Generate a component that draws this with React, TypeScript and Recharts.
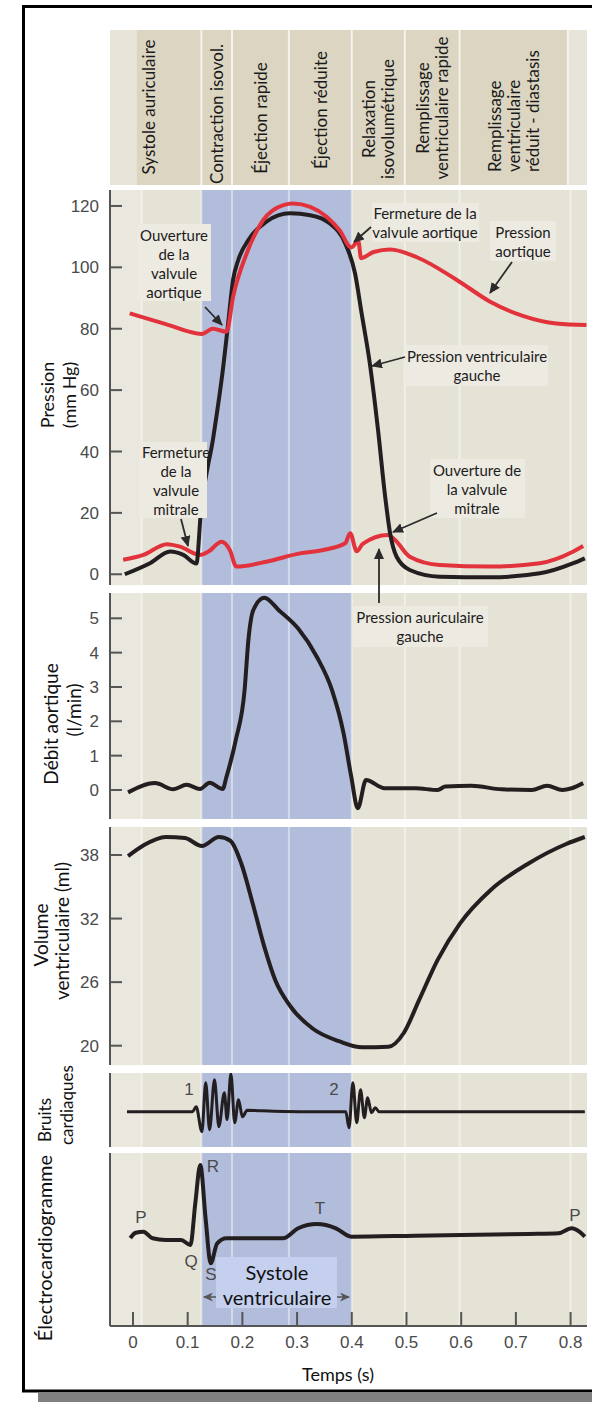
import React from "react"
import { LineChart, Line, XAxis, YAxis, ReferenceArea, ReferenceLine } from "recharts"

// time axis (s)
const tMin = -0.042
const tMax = 0.83
const timeTicks = [0, 0.1, 0.2, 0.3, 0.4, 0.5, 0.6, 0.7, 0.8]
const systoleFrom = 0.125
const systoleTo = 0.4
const separators = [0.016, 0.125, 0.181, 0.285, 0.4, 0.497, 0.597, 0.8]

// cardiac phases (header)
const phaseLabels = [
  ["Systole auriculaire"],
  ["Contraction isovol."],
  ["Éjection rapide"],
  ["Éjection réduite"],
  ["Relaxation", "isovolumétrique"],
  ["Remplissage", "ventriculaire rapide"],
  ["Remplissage", "ventriculaire", "réduit - diastasis"],
]
const phaseStart = [0.007, 0.125, 0.181, 0.285, 0.4, 0.497, 0.597]
const phaseEnd = [0.125, 0.181, 0.285, 0.4, 0.497, 0.597, 0.795]

// pressure (mm Hg)
const pressureTicks = [0, 20, 40, 60, 80, 100, 120]
const aorticT = [-0.006, 0.06, 0.1255, 0.146, 0.171, 0.183, 0.208, 0.238, 0.275, 0.293, 0.324, 0.354, 0.378, 0.399, 0.412, 0.417, 0.44, 0.47, 0.52, 0.592, 0.653, 0.714, 0.774, 0.829]
const aorticP = [85, 81.5, 78.3, 80, 79, 90.4, 104.6, 115.4, 120.3, 120.8, 119.7, 116.5, 112, 106.5, 108.5, 103, 105, 105.8, 103.2, 95.9, 88.8, 84.1, 81.7, 81.2]
const ventricleT = [-0.015, 0.031, 0.068, 0.092, 0.116, 0.124, 0.147, 0.165, 0.174, 0.183, 0.1925, 0.211, 0.244, 0.287, 0.324, 0.36, 0.388, 0.406, 0.418, 0.433, 0.448, 0.461, 0.47, 0.482, 0.506, 0.561, 0.653, 0.744, 0.805, 0.826]
const ventricleP = [0, 3.6, 7.4, 6.3, 3.5, 20, 44.8, 67.6, 81.8, 95.9, 102.4, 108.9, 114.9, 117.6, 117, 114.3, 107.8, 98, 85, 68.7, 47, 25.3, 13.4, 5.7, 1.4, -0.8, -1, 0.3, 3.6, 5.2]
const atriumT = [-0.018, 0.019, 0.062, 0.086, 0.122, 0.138, 0.162, 0.177, 0.189, 0.244, 0.305, 0.348, 0.388, 0.397, 0.409, 0.42, 0.466, 0.48, 0.506, 0.561, 0.653, 0.744, 0.805, 0.823]
const atriumP = [4.7, 6.3, 9.8, 9, 6.3, 7.4, 10.6, 7.9, 2.5, 4.1, 6.8, 7.9, 10.1, 13.4, 7.5, 9.9, 12.8, 11, 5.7, 3, 2.5, 3.6, 7.4, 9.2]

// aortic flow (l/min)
const flowTicks = [0, 1, 2, 3, 4, 5]
const flowT = [-0.009, 0.04, 0.074, 0.098, 0.1225, 0.14, 0.164, 0.171, 0.188, 0.204, 0.211, 0.22, 0.24, 0.267, 0.302, 0.336, 0.364, 0.385, 0.399, 0.411, 0.426, 0.46, 0.516, 0.557, 0.571, 0.619, 0.674, 0.729, 0.757, 0.785, 0.802, 0.823]
const flowV = [-0.07, 0.2, 0.02, 0.15, 0.03, 0.21, 0.03, 0.39, 1.46, 2.9, 4.37, 5.24, 5.6, 5.23, 4.7, 3.88, 2.9, 1.65, 0.39, -0.53, 0.29, 0.05, 0.05, 0, 0.1, 0.12, 0.02, 0, 0.12, 0, 0.05, 0.2]

// ventricular volume (ml)
const volumeTicks = [20, 26, 32, 38]
const volumeT = [-0.009, 0.019, 0.06, 0.095, 0.126, 0.157, 0.178, 0.198, 0.219, 0.24, 0.26, 0.288, 0.329, 0.378, 0.419, 0.467, 0.495, 0.523, 0.557, 0.598, 0.654, 0.723, 0.792, 0.826]
const volumeV = [37.9, 38.9, 39.7, 39.6, 38.85, 39.7, 39.35, 37.2, 33.4, 29.35, 26.2, 23.7, 21.6, 20.4, 19.85, 19.9, 21.2, 24.3, 28.1, 31.55, 34.7, 37.2, 39.04, 39.7]

// heart sounds (arbitrary units)
const soundT = [-0.011, 0.109, 0.1155, 0.126, 0.133, 0.14, 0.149, 0.157, 0.167, 0.172, 0.179, 0.186, 0.193, 0.2, 0.209, 0.232, 0.305, 0.389, 0.395, 0.402, 0.409, 0.416, 0.423, 0.429, 0.436, 0.443, 0.45, 0.826]
const soundV = [0, 0, 0.5, -2, 2.9, -1.8, 3.2, -1.5, 1.9, -0.8, 3.8, -1.1, 1.2, -0.5, 0.15, 0.1, 0, 0, -1.6, 2.9, -1.1, 2.2, -0.6, 1.4, -0.1, 0.4, 0, 0]

// ECG (arbitrary units)
const ecgT = [-0.005, 0.005, 0.019, 0.036, 0.06, 0.088, 0.105, 0.114, 0.123, 0.133, 0.142, 0.154, 0.171, 0.274, 0.302, 0.336, 0.371, 0.399, 0.516, 0.723, 0.778, 0.802, 0.816, 0.826]
const ecgV = [-0.13, 0.4, 0.5, -0.16, -0.33, -0.33, -0.83, 3.37, 7.17, 1.67, -2.66, -0.66, -0.16, -0.16, 0.84, 1.27, 0.84, 0, 0.1, 0.27, 0.34, 0.84, 0.5, 0]

const pts = (t: number[], v: number[]) => t.map((x, i) => ({ t: x, v: v[i] }))

const BG = "#e5e3d6"
const BG_LIGHT = "#eae8de"
const BLUE = "#b2bcdb"
const INK = "#231f20"
const RED = "#e2323b"
const AXIS = "#555"
const SANS = "Lato, 'Open Sans', sans-serif"
const ARIAL = "'Liberation Sans', Arial, sans-serif"

// header label placement (px inside the header band)
const phaseDx = [-21, 0, 0, 0, 0, 0, 0]
const phaseY = [77, 84, 88, 80, 89, 78, 142]
const phaseAnchor = ["middle", "middle", "middle", "middle", "middle", "middle", "start"]

const YTick = (props: any) => {
  const { x, y, payload } = props
  return (
    <g>
      <line x1={x + 11} x2={x + 23} y1={y} y2={y} stroke={AXIS} strokeWidth={2} />
      <text x={x} y={y} dy="0.36em" textAnchor="end" fontFamily={ARIAL} fontSize={17} fill="#4a4a4a">
        {payload.value}
      </text>
    </g>
  )
}

const XTick = (props: any) => {
  const { x, y, payload } = props
  return (
    <g>
      <line x1={x} x2={x} y1={y - 10} y2={y - 24} stroke={AXIS} strokeWidth={2} />
      <text x={x} y={y} dy="0.71em" textAnchor="middle" fontFamily={ARIAL} fontSize={17} fill="#4a4a4a">
        {payload.value}
      </text>
    </g>
  )
}

function backdrop() {
  return [
    <ReferenceArea key="bg" x1={tMin} x2={tMax} fill={BG} fillOpacity={1} stroke="none" />,
    <ReferenceArea key="lead" x1={tMin} x2={separators[0]} fill={BG_LIGHT} fillOpacity={1} stroke="none" />,
    <ReferenceArea key="sys" x1={systoleFrom} x2={systoleTo} fill={BLUE} fillOpacity={1} stroke="none" />,
    ...separators.map((t) => (
      <ReferenceLine key={"sep" + t} x={t} stroke="#ffffff" strokeOpacity={0.45} strokeWidth={2} />
    )),
  ]
}

function Panel({ top, plotHeight, domain, ticks, showTime, children }: any) {
  const axisH = showTime ? 40 : 0
  return (
    <div style={{ position: "absolute", left: 0, top }}>
      <LineChart width={592} height={plotHeight + axisH} margin={{ top: 0, right: 5, bottom: 0, left: 0 }}>
        <XAxis
          type="number"
          dataKey="t"
          domain={[tMin, tMax]}
          allowDataOverflow
          ticks={timeTicks}
          interval={0}
          hide={!showTime}
          height={axisH}
          tickSize={0}
          tickMargin={10}
          tickLine={false}
          axisLine={{ stroke: AXIS, strokeWidth: 2 }}
          tick={<XTick />}
        />
        <YAxis
          type="number"
          domain={domain}
          allowDataOverflow
          width={110}
          ticks={ticks || []}
          interval={0}
          tickSize={0}
          tickMargin={11}
          tickLine={false}
          axisLine={{ stroke: AXIS, strokeWidth: 2 }}
          tick={ticks ? <YTick /> : false}
        />
        {backdrop()}
        {children}
      </LineChart>
    </div>
  )
}

function PhaseLabel({ viewBox, lines, i }: any) {
  if (!viewBox) return null
  const cx = viewBox.x + viewBox.width / 2 + phaseDx[i]
  const n = lines.length
  return (
    <g>
      {lines.map((s: string, k: number) => {
        const x = cx + (k - (n - 1) / 2) * 19
        const y = viewBox.y + phaseY[i]
        return (
          <text
            key={k}
            transform={`translate(${x},${y}) rotate(-90)`}
            textAnchor={phaseAnchor[i]}
            dominantBaseline="central"
            fontFamily={SANS}
            fontSize={17}
            fill="#1a1a1a"
          >
            {s}
          </text>
        )
      })}
    </g>
  )
}

function Header() {
  return (
    <div style={{ position: "absolute", left: 0, top: 30 }}>
      <LineChart width={592} height={155} margin={{ top: 0, right: 5, bottom: 0, left: 110 }} data={pts(phaseStart, phaseStart)}>
        <XAxis type="number" dataKey="t" domain={[tMin, tMax]} allowDataOverflow hide />
        <YAxis type="number" domain={[0, 1]} allowDataOverflow hide />
        <ReferenceArea x1={tMin} x2={tMax} fill="#e7e5da" fillOpacity={1} stroke="none" />
        {phaseLabels.map((lines, i) => (
          <ReferenceArea
            key={i}
            x1={phaseStart[i]}
            x2={phaseEnd[i]}
            fill="#dbd5c2"
            fillOpacity={1}
            stroke="none"
            label={(p: any) => <PhaseLabel viewBox={p.viewBox} lines={lines} i={i} />}
          />
        ))}
        {separators.slice(1).map((t) => (
          <ReferenceLine key={t} x={t === 0.8 ? 0.795 : t} stroke="#f4f3ed" strokeWidth={2} />
        ))}
      </LineChart>
    </div>
  )
}

function VText({ x, y, text, size, anchor = "middle" }: any) {
  return (
    <text
      transform={`translate(${x},${y}) rotate(-90)`}
      textAnchor={anchor}
      dominantBaseline="central"
      fontFamily={SANS}
      fontSize={size}
      fill="#111"
    >
      {text}
    </text>
  )
}

function Note({ x, y, lines, box }: any) {
  return (
    <g>
      {box && <rect x={box[0]} y={box[1]} width={box[2]} height={box[3]} fill="#eceae1" />}
      {lines.map((s: string, i: number) => (
        <text key={i} x={x} y={y + i * 19} textAnchor="middle" dominantBaseline="central" fontFamily={SANS} fontSize={15} fill="#1c1c1c">
          {s}
        </text>
      ))}
    </g>
  )
}

function Arrow({ x1, y1, x2, y2 }: any) {
  return <line x1={x1} y1={y1} x2={x2} y2={y2} stroke="#2b2b2b" strokeWidth={1.8} markerEnd="url(#tip)" />
}

function Letter({ x, y, c }: any) {
  return (
    <text x={x} y={y} textAnchor="middle" dominantBaseline="central" fontFamily={ARIAL} fontSize={17} fill="#4a4a4a">
      {c}
    </text>
  )
}

function Overlay() {
  return (
    <svg width={592} height={1402} style={{ position: "absolute", left: 0, top: 0, pointerEvents: "none" }}>
      <defs>
        <marker id="tip" markerUnits="userSpaceOnUse" markerWidth="11" markerHeight="10" viewBox="0 0 11 10" refX="10" refY="5" orient="auto">
          <path d="M0,0 L11,5 L0,10 z" fill="#2b2b2b" />
        </marker>
        <marker id="tip2" markerUnits="userSpaceOnUse" markerWidth="10" markerHeight="9" viewBox="0 0 10 9" refX="9" refY="4.5" orient="auto">
          <path d="M0,0 L10,4.5 L0,9 L3,4.5 z" fill="#555" />
        </marker>
      </defs>

      {/* axis titles */}
      <rect x={33} y={347} width={47} height={98} fill="#fff" />
      <VText x={47} y={395} text="Pression" size={18} />
      <VText x={69} y={395} text="(mm Hg)" size={18} />

      <rect x={36} y={640} width={51} height={157} fill="#fff" />
      <VText x={50} y={724} text="Débit aortique" size={19} />
      <VText x={73} y={710} text="(l/min)" size={19} />

      <rect x={26} y={860} width={46} height={157} fill="#fff" />
      <VText x={40} y={935} text="Volume" size={19} />
      <VText x={61} y={931} text="ventriculaire (ml)" size={19} />

      <rect x={34} y={1066} width={44} height={86} fill="#fff" />
      <VText x={44} y={1142} text="Bruits" size={17} anchor="start" />
      <VText x={66} y={1145} text="cardiaques" size={17} anchor="start" />

      <rect x={30} y={1153} width={27} height={204} fill="#fff" />
      <VText x={44} y={1248} text="Électrocardiogramme" size={20} />

      <rect x={289} y={1363} width={98} height={22} fill="#fff" />
      <text x={338} y={1374} textAnchor="middle" dominantBaseline="central" fontFamily={SANS} fontSize={18} fill="#111">
        Temps (s)
      </text>

      {/* pressure annotations */}
      <Note x={174} y={235} lines={["Ouverture", "de la", "valvule", "aortique"]} box={[137, 224, 74, 77]} />
      <Arrow x1={205} y1={307} x2={222} y2={325} />
      <Note x={176} y={452} lines={["Fermeture", "de la", "valvule", "mitrale"]} box={[139, 442, 68, 76]} />
      <Arrow x1={181} y1={519} x2={188} y2={546} />
      <Note x={425} y={213} lines={["Fermeture de la", "valvule aortique"]} box={[372, 203, 107, 39]} />
      <Arrow x1={371} y1={227} x2={354} y2={242} />
      <Note x={523} y={232} lines={["Pression", "aortique"]} box={[490, 221, 66, 40]} />
      <Arrow x1={512} y1={262} x2={490} y2={293} />
      <Note x={477} y={356} lines={["Pression ventriculaire", "gauche"]} box={[405, 345, 143, 41]} />
      <Arrow x1={405} y1={357} x2={372} y2={366} />
      <Note x={477} y={470} lines={["Ouverture de", "la valvule", "mitrale"]} box={[430, 459, 95, 59]} />
      <Arrow x1={437} y1={513} x2={393} y2={532} />
      <Note x={420} y={617} lines={["Pression auriculaire", "gauche"]} box={[352, 606, 136, 41]} />
      <Arrow x1={379} y1={603} x2={379} y2={549} />

      {/* heart sounds and ECG waves */}
      <Letter x={189} y={1089} c="1" />
      <Letter x={334} y={1089} c="2" />
      <Letter x={141} y={1217} c="P" />
      <Letter x={191} y={1261} c="Q" />
      <Letter x={213} y={1166} c="R" />
      <Letter x={211} y={1274} c="S" />
      <Letter x={320} y={1208} c="T" />
      <Letter x={575} y={1215} c="P" />

      <rect x={216} y={1257} width={121} height={51} fill="#c5d0ef" />
      <text x={277} y={1272} textAnchor="middle" dominantBaseline="central" fontFamily={SANS} fontSize={20} fill="#111">
        Systole
      </text>
      <text x={277} y={1297} textAnchor="middle" dominantBaseline="central" fontFamily={SANS} fontSize={20} fill="#111">
        ventriculaire
      </text>
      <line x1={216} y1={1297} x2={204} y2={1297} stroke="#555" strokeWidth={1.5} markerEnd="url(#tip2)" />
      <line x1={337} y1={1297} x2={349} y2={1297} stroke="#555" strokeWidth={1.5} markerEnd="url(#tip2)" />
    </svg>
  )
}

export default function App() {
  return (
    <div style={{ position: "absolute", left: 0, top: 0, width: 592, height: 1402, background: "#fff", overflow: "hidden" }}>
      <svg width={592} height={1402} style={{ position: "absolute", left: 0, top: 0 }}>
        <rect x={38} y={1393} width={560} height={10} fill="#808080" />
        <path d="M600,6.5 L23.5,6.5 L23.5,1391 L600,1391" fill="none" stroke="#000" strokeWidth={3} />
      </svg>

      <Header />

      <Panel top={190} plotHeight={395} domain={[-3.5, 125.2]} ticks={pressureTicks}>
        <Line data={pts(atriumT, atriumP)} dataKey="v" type="monotone" stroke={RED} strokeWidth={4} dot={false} isAnimationActive={false} />
        <Line data={pts(ventricleT, ventricleP)} dataKey="v" type="monotone" stroke={INK} strokeWidth={4} dot={false} isAnimationActive={false} />
        <Line data={pts(aorticT, aorticP)} dataKey="v" type="monotone" stroke={RED} strokeWidth={4} dot={false} isAnimationActive={false} />
      </Panel>

      <Panel top={593} plotHeight={226} domain={[-0.845, 5.737]} ticks={flowTicks}>
        <Line data={pts(flowT, flowV)} dataKey="v" type="monotone" stroke={INK} strokeWidth={4} dot={false} isAnimationActive={false} />
      </Panel>

      <Panel top={827} plotHeight={238} domain={[18.178, 40.643]} ticks={volumeTicks}>
        <Line data={pts(volumeT, volumeV)} dataKey="v" type="monotone" stroke={INK} strokeWidth={4} dot={false} isAnimationActive={false} />
      </Panel>

      <Panel top={1073} plotHeight={74} domain={[-3.53, 3.87]}>
        <Line data={pts(soundT, soundV)} dataKey="v" type="monotone" stroke={INK} strokeWidth={3} dot={false} isAnimationActive={false} />
      </Panel>

      <Panel top={1153} plotHeight={173} domain={[-8.93, 8.37]} showTime>
        <Line data={pts(ecgT, ecgV)} dataKey="v" type="monotone" stroke={INK} strokeWidth={4} dot={false} isAnimationActive={false} />
      </Panel>

      <Overlay />
    </div>
  )
}
